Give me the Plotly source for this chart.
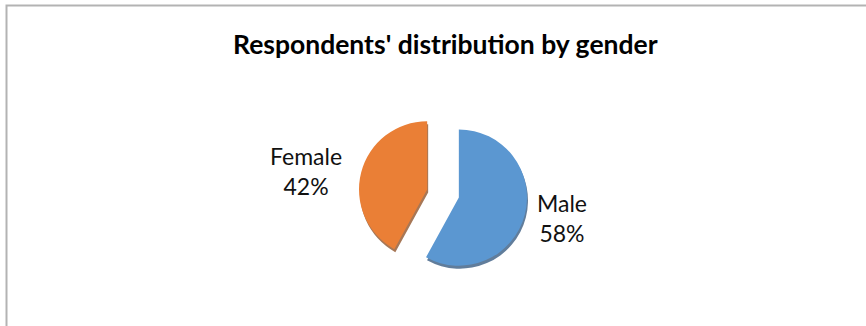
import plotly.graph_objects as go

# Survey split by gender
genders = ["Male", "Female"]
counts = [58, 42]
slice_colors = ["#5b97d1", "#ea7f36"]
shadow_colors = ["#2c527a", "#8a4a1e"]

W, H = 866, 326
total = sum(counts)
pcts = [round(100 * v / total) for v in counts]

# pie box (pixels): centre and size of the domain
cx, cy, box = 443, 193.5, 169
pull = 0.24


def dom(dx=0.0, dy=0.0):
    x0 = (cx - box / 2 + dx) / W
    x1 = (cx + box / 2 + dx) / W
    y0 = (H - (cy + box / 2 + dy)) / H
    y1 = (H - (cy - box / 2 + dy)) / H
    return dict(x=[x0, x1], y=[y0, y1])


fig = go.Figure()

# soft drop shadow under the slices
fig.add_trace(go.Pie(
    labels=genders, values=counts, sort=False, direction="clockwise",
    rotation=0, pull=[pull, pull], domain=dom(1, 3),
    marker=dict(colors=shadow_colors, line=dict(width=0)),
    opacity=0.75, textinfo="none", hoverinfo="skip", showlegend=False,
))

fig.add_trace(go.Pie(
    labels=genders, values=counts, sort=False, direction="clockwise",
    rotation=0, pull=[pull, pull], domain=dom(),
    marker=dict(colors=slice_colors, line=dict(width=0)),
    textinfo="none", showlegend=False,
))

font_name = "Lato, Carlito, Calibri, sans-serif"

# outside data labels
label_pos = {"Male": (562, 218), "Female": (306, 171)}
annotations = []
for g, p in zip(genders, pcts):
    px, py = label_pos[g]
    annotations.append(dict(
        x=px / W, y=(H - py) / H, xref="paper", yref="paper",
        text=f"{g}<br>{p}%", showarrow=False, align="center",
        xanchor="center", yanchor="middle",
        font=dict(family=font_name, size=23, color="#111111"),
    ))

annotations.append(dict(
    x=446 / W, y=(H - 44) / H, xref="paper", yref="paper",
    text="<b>Respondents' distribution by gender</b>", showarrow=False,
    xanchor="center", yanchor="middle",
    font=dict(family=font_name, size=26.5, color="#000000"),
))

# chart-area frame (only left and top edges visible)
shapes = [dict(
    type="path", xref="paper", yref="paper",
    path=f"M {6.5 / W} 0 L {6.5 / W} {1 - 5.5 / H} L 1.01 {1 - 5.5 / H}",
    line=dict(color="#b3b3b3", width=2),
)]

fig.update_layout(
    width=W, height=H, margin=dict(l=0, r=0, t=0, b=0),
    paper_bgcolor="white", plot_bgcolor="white",
    annotations=annotations, shapes=shapes,
)

fig.write_html("out.html")
